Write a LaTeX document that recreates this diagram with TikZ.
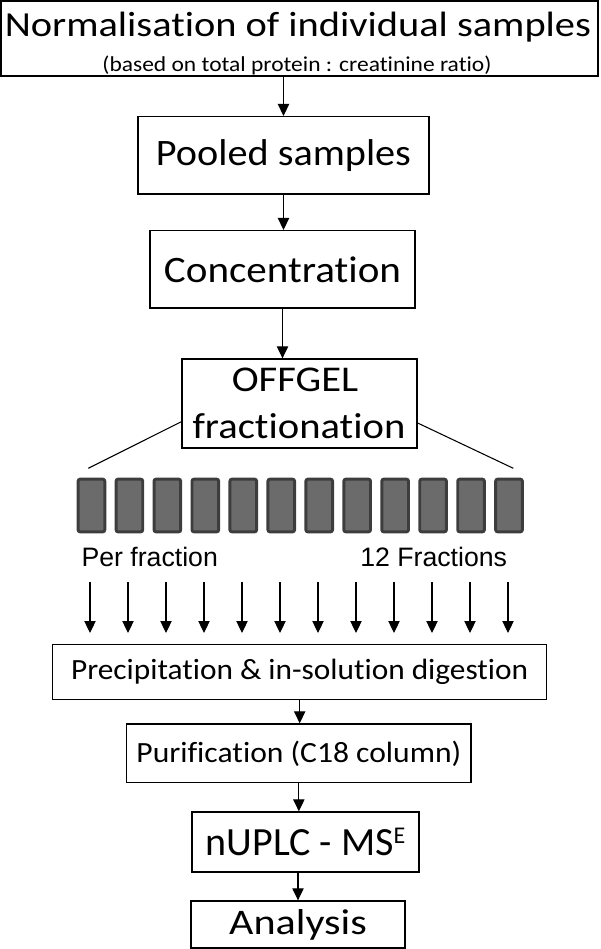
\documentclass[tikz,border=0pt]{standalone}
\usepackage{fontspec}
\setmainfont{Carlito}[Ligatures=NoCommon]
\newfontfamily\labelfont{Liberation Sans}
\usetikzlibrary{arrows.meta}

% text of the original is a little wider than Carlito
\newcommand{\widetext}[2]{\scalebox{#1}[1]{#2}}

\tikzset{
  stepbox/.style={draw, line width=1pt, inner sep=0pt},
  flow/.style={-{Triangle[width=8.5pt,length=9pt]}, line width=0.8pt},
  fraction/.style={draw=black!76, fill=black!58, line width=2.2pt,
    rounded corners=1.5pt, minimum width=20pt, minimum height=39.5pt, inner sep=0pt}
}

\begin{document}
\begin{tikzpicture}[x=0.75pt, y=-0.75pt]
    \useasboundingbox (0,0) rectangle (600,949);

    % Boxes of the work flow
    \node[stepbox, minimum width=447.75pt, minimum height=56.25pt] (norm) at (299.5,38.5) {};
    \node[anchor=base, font=\fontsize{26.4}{30}\selectfont] (normtitle) at (298,36.7) {\widetext{1.148}{Normalisation of individual samples}};
    \node[anchor=base, font=\fontsize{16}{18}\selectfont] (normnote) at (297,71) {\widetext{1.1}{(based on total protein : creatinine ratio)}};

    \node[stepbox, minimum width=218.25pt, minimum height=58pt, font=\fontsize{28}{32}\selectfont] (pooled) at (283.5,155.3) {\widetext{1.077}{Pooled samples}};
    \node[stepbox, minimum width=198.75pt, minimum height=58pt, font=\fontsize{28}{32}\selectfont] (conc) at (282.5,269.3) {\widetext{1.1}{Concentration}};

    \node[stepbox, minimum width=176.25pt, minimum height=66.75pt] (offgel) at (299.5,403.5) {};
    \node[anchor=base, font=\fontsize{27.2}{30}\selectfont] (offgeltop) at (295,391.7) {\widetext{1.12}{OFFGEL}};
    \node[anchor=base, font=\fontsize{27.2}{30}\selectfont] (offgelbottom) at (299,438) {\widetext{1.12}{fractionation}};

    % Fan out to the fractions
    \coordinate (fanleft) at (88.3,468.3);
    \coordinate (fanright) at (513.3,468.3);
    \draw[line width=0.8pt] (offgel.west |- 0,421.7) -- (fanleft);
    \draw[line width=0.8pt] (offgel.east |- 0,423) -- (fanright);

    % The 12 fractions and their arrows
    \foreach \i in {0,...,11} {
        \node[fraction] (f\i) at ({91.45+37.96*\i},505.5) {};
        \coordinate (fs\i) at ({90+38*\i},582);
        \coordinate (fe\i) at ({90+38*\i},633);
        \draw[flow] (fs\i) -- (fe\i);
    }

    \node[font=\labelfont\fontsize{20}{22}\selectfont] (perfraction) at (149.7,556.7) {Per fraction};
    \node[font=\labelfont\fontsize{20}{22}\selectfont] (twelve) at (433.7,556.7) {12 Fractions};

    \node[stepbox, minimum width=370.5pt, minimum height=41pt, font=\fontsize{22}{26}\selectfont] (precip) at (299.7,672) {\widetext{1.068}{Precipitation \& in-solution digestion}};
    \node[stepbox, minimum width=258.2pt, minimum height=44pt, font=\fontsize{22}{26}\selectfont] (purif) at (298.85,753.3) {\widetext{1.077}{Purification (C18 column)}};
    \node[stepbox, minimum width=170.25pt, minimum height=45pt, font=\fontsize{30}{34}\selectfont] (nuplc) at (305.5,842) {nUPLC - MS{\fontsize{18}{20}\selectfont\raisebox{8.5pt}{E}}};
    \node[stepbox, minimum width=160.5pt, minimum height=35.25pt, font=\fontsize{27}{30}\selectfont] (analysis) at (298,924.5) {\widetext{1.17}{Analysis}};

    % Arrows
    \draw[flow] (norm.south -| pooled.north) -- (pooled.north);
    \draw[flow] (pooled.south) -- (pooled.south |- conc.north);
    \draw[flow] (conc.south) -- (conc.south |- offgel.north);
    \draw[flow] (precip.south) -- (precip.south |- purif.north);
    \draw[flow] (purif.south) -- (purif.south |- nuplc.north);
    \draw[flow] (analysis.north |- nuplc.south) -- (analysis.north);

\end{tikzpicture}
\end{document}
